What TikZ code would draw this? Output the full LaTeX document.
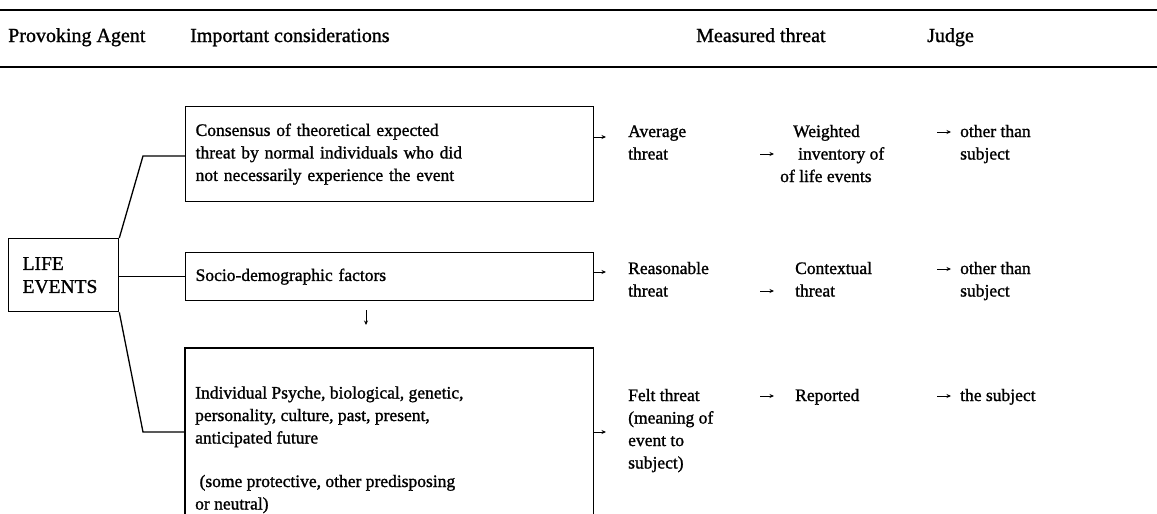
\documentclass[tikz,border=0pt]{standalone}
\usepackage{fontspec}
\setmainfont{Liberation Serif}[FakeBold=1.2]
\usetikzlibrary{arrows.meta}
\begin{document}
\begin{tikzpicture}[x=1pt,y=-1pt,
  hd/.style={anchor=base west,inner sep=0pt,font=\fontsize{20}{24}\selectfont},
  tx/.style={anchor=base west,inner sep=0pt,align=left,font=\fontsize{17.5}{22.5}\selectfont},
  box/.style={draw,line width=1.3pt,anchor=north west,align=left,inner xsep=10pt,
    minimum width=408pt,text width=388pt,font=\fontsize{17.5}{22.5}\selectfont},
  ln/.style={line width=1.3pt},
  arr/.style={line width=1pt,-{Stealth[length=4.5pt,width=4pt]}}]
\useasboundingbox (0,0) rectangle (1157,514);
% rules
\draw[line width=2.6pt] (0,10) -- (1157,10);
\draw[line width=1.8pt] (0,67) -- (1157,67);
% headings
\node[hd] (h1) at (8,42) {Provoking Agent};
\node[hd] (h2) at (190,42) {Important considerations};
\node[hd] (h3) at (696,42) {Measured threat};
\node[hd] (h4) at (927,42) {Judge};
% life events
\node[draw,line width=1.3pt,anchor=north west,align=left,minimum width=110pt,minimum height=73pt,
  text width=82pt,inner xsep=14pt,font=\fontsize{19.5}{23}\selectfont] (life) at (8,238) {LIFE\\EVENTS};
% boxes
\node[box,minimum height=95pt] (b1) at (185,106) {Consensus of theoretical expected\\threat by normal individuals who did\\not necessarily experience the event};
\node[box,minimum height=48pt] (b2) at (185,252) {Socio-demographic factors};
\node[anchor=north west,minimum width=408pt,minimum height=166pt,inner sep=0pt] (b3) at (185,348) {};
\draw[ln] (b3.south west) -- (b3.north west) -- (b3.north east) -- (b3.south east);
% multi-line nodes: the base anchor is the baseline of the last line
\node[tx] (b3t) at (195,509.5) {Individual Psyche, biological, genetic,\\personality, culture, past, present,\\anticipated future\\[21pt]\ (some protective, other predisposing\\or neutral)};
% connectors from life events
\coordinate (k1) at (143,156);
\coordinate (k3) at (143,432);
\draw[ln] (life.north east) -- (k1) -- (b1.west |- k1);
\draw[ln] (life.east |- b2.west) -- (b2.west);
\draw[ln] (life.south east) -- (k3) -- (b3.west |- k3);
% down arrow
\coordinate (d1) at (366,310);
\coordinate (d2) at (366,325);
\draw[arr] (d1) -- (d2);
% box arrows
\coordinate (a1) at (606,137);
\coordinate (a2) at (606,272);
\coordinate (a3) at (606,432);
\draw[arr] (b1.east |- a1) -- (a1);
\draw[arr] (b2.east |- a2) -- (a2);
\draw[arr] (b3.east |- a3) -- (a3);
% row 1
\node[tx] (m1) at (628,159.5) {Average\\threat};
\node[tx] (w1) at (793,137) {Weighted};
\node[tx] (w2) at (798,159.5) {inventory of};
\node[tx] (w3) at (780,182) {of life events};
\node[tx] (j1) at (960,159.5) {other than\\subject};
% row 2
\node[tx] (m2) at (628,296.5) {Reasonable\\threat};
\node[tx] (c2) at (795,296.5) {Contextual\\threat};
\node[tx] (j2) at (960,296.5) {other than\\subject};
% row 3
\node[tx] (m3) at (628,468.5) {Felt threat\\(meaning of\\event to\\subject)};
\node[tx] (r3) at (795,401) {Reported};
\node[tx] (j3) at (960,401) {the subject};
% arrows between columns
\coordinate (p1a) at (760,154); \coordinate (p1b) at (774,154);
\coordinate (q1a) at (937,132); \coordinate (q1b) at (951,132);
\coordinate (p2a) at (760,291); \coordinate (p2b) at (774,291);
\coordinate (q2a) at (937,269); \coordinate (q2b) at (951,269);
\coordinate (p3a) at (760,396); \coordinate (p3b) at (774,396);
\coordinate (q3a) at (937,396); \coordinate (q3b) at (951,396);
\draw[arr] (p1a) -- (p1b);
\draw[arr] (q1a) -- (q1b);
\draw[arr] (p2a) -- (p2b);
\draw[arr] (q2a) -- (q2b);
\draw[arr] (p3a) -- (p3b);
\draw[arr] (q3a) -- (q3b);
\end{tikzpicture}
\end{document}
